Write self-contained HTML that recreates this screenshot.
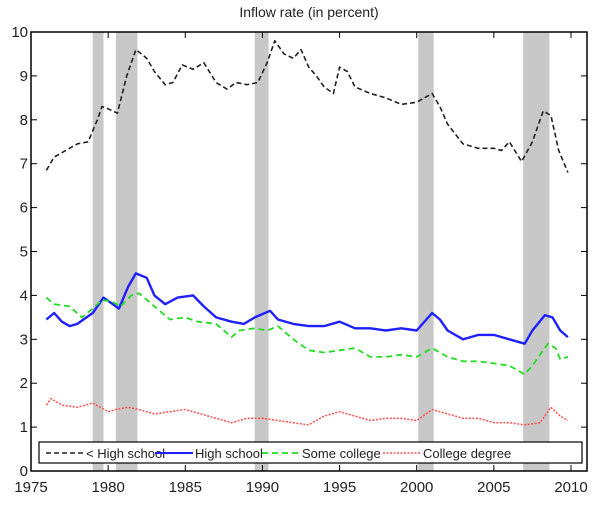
<!DOCTYPE html>
<html><head><meta charset="utf-8"><style>
html,body{margin:0;padding:0;background:#fff;}
svg{display:block;font-family:"Liberation Sans",sans-serif;}
</style></head><body>
<svg id="chart" width="600" height="509" xmlns="http://www.w3.org/2000/svg">
<text x="309" y="17" font-size="14" text-anchor="middle" fill="#222">Inflow rate (in percent)</text>
<g id="rec"></g><g id="axes"></g><g id="lines"></g><g id="legend"></g>
</svg>
<script>
const recessions=[[1979.0,1979.7],[1980.5,1981.9],[1989.5,1990.4],[2000.1,2001.1],[2006.9,2008.6]];
const xTicks=[1975,1980,1985,1990,1995,2000,2005,2010];
const yTicks=[0,1,2,3,4,5,6,7,8,9,10];
const lhsYears=[1976,1976.5,1977,1978,1978.7,1979.3,1979.6,1980,1980.6,1981.2,1981.8,1982.5,1983,1983.7,1984.2,1984.8,1985.5,1986.2,1987,1987.7,1988.3,1989,1989.7,1990.3,1990.8,1991.4,1992,1992.5,1993,1993.5,1994,1994.6,1995,1995.5,1996,1997,1998,1999,2000,2001,2001.5,2002,2003,2004,2005,2005.5,2006,2006.8,2007.5,2008.2,2008.7,2009.2,2009.8];
const lhsVals=[6.85,7.15,7.25,7.45,7.5,8.0,8.3,8.25,8.15,9.0,9.6,9.4,9.1,8.8,8.85,9.25,9.15,9.3,8.85,8.7,8.85,8.8,8.85,9.3,9.8,9.5,9.4,9.6,9.2,9.0,8.75,8.6,9.2,9.1,8.75,8.6,8.5,8.35,8.4,8.6,8.3,7.9,7.45,7.35,7.35,7.3,7.5,7.05,7.5,8.2,8.1,7.3,6.8];
const hsYears=[1976,1976.5,1977,1977.5,1978,1979,1979.7,1980.3,1980.7,1981.3,1981.8,1982.5,1983,1983.7,1984.5,1985.5,1986.2,1987,1988,1988.8,1989.5,1990.5,1991,1992,1993,1994,1995,1996,1997,1998,1999,2000,2001,2001.5,2002,2003,2004,2005,2006,2007,2007.5,2008.3,2008.8,2009.3,2009.8];
const hsVals=[3.45,3.6,3.4,3.3,3.35,3.6,3.95,3.8,3.7,4.2,4.5,4.4,4.0,3.8,3.95,4.0,3.75,3.5,3.4,3.35,3.5,3.65,3.45,3.35,3.3,3.3,3.4,3.25,3.25,3.2,3.25,3.2,3.6,3.45,3.2,3.0,3.1,3.1,3.0,2.9,3.2,3.55,3.5,3.2,3.05];
const scYears=[1976,1976.5,1977.5,1978.3,1979,1979.6,1980.3,1980.8,1981.5,1982,1983,1984,1985,1985.8,1987,1988,1988.5,1989.5,1990.3,1991,1992,1993,1994,1995,1996,1997,1998,1999,2000,2001,2002,2003,2004,2005,2006,2007,2007.5,2008.5,2009,2009.3,2009.8];
const scVals=[3.95,3.8,3.75,3.5,3.7,3.9,3.85,3.75,4.0,4.05,3.75,3.45,3.5,3.4,3.35,3.05,3.2,3.25,3.2,3.3,3.0,2.75,2.7,2.75,2.8,2.6,2.6,2.65,2.6,2.8,2.6,2.5,2.5,2.45,2.4,2.2,2.4,2.9,2.8,2.55,2.6];
const cdYears=[1976,1976.3,1977,1978,1979,1980,1980.5,1981.3,1982,1983,1984,1985,1986,1987,1988,1989,1990,1991,1992,1993,1994,1995,1996,1997,1998,1999,2000,2001,2002,2003,2004,2005,2006,2007,2008,2008.7,2009.3,2009.8];
const cdVals=[1.5,1.65,1.5,1.45,1.55,1.35,1.4,1.45,1.4,1.3,1.35,1.4,1.3,1.2,1.1,1.2,1.2,1.15,1.1,1.05,1.25,1.35,1.25,1.15,1.2,1.2,1.15,1.4,1.3,1.2,1.2,1.1,1.1,1.05,1.1,1.45,1.25,1.15];
const seriesNames=["< High school","High school","Some college","College degree"];

const L=31,R=587,T=32,B=471;
const x=v=>L+(v-1975)*(571-31)/35;
const y=v=>B-v*(B-T)/10;
const NS="http://www.w3.org/2000/svg";
function mk(tag,parent,attrs){const e=document.createElementNS(NS,tag);for(const k in attrs)e.setAttribute(k,attrs[k]);parent.appendChild(e);return e;}
const rec=document.getElementById('rec'),axes=document.getElementById('axes'),lines=document.getElementById('lines'),leg=document.getElementById('legend');
recessions.forEach(r=>{const e=mk('rect',rec,{x:x(r[0]),y:T,width:x(r[1])-x(r[0]),height:B-T,fill:'#c8c8c8'});

});
const frame=mk('rect',axes,{x:L,y:T,width:R-L,height:B-T,fill:'none',stroke:'#000','stroke-width':1.5});


xTicks.forEach(t=>{const xx=x(t);
mk('line',axes,{x1:xx,x2:xx,y1:B,y2:B-6,stroke:'#000'});mk('line',axes,{x1:xx,x2:xx,y1:T,y2:T+6,stroke:'#000'});
const tx=mk('text',axes,{x:xx,y:B+21,'font-size':15,'text-anchor':'middle',fill:'#222'});tx.textContent=t;

});
yTicks.forEach(t=>{const yy=y(t);
mk('line',axes,{x1:L,x2:L+6,y1:yy,y2:yy,stroke:'#000'});mk('line',axes,{x1:R,x2:R-6,y1:yy,y2:yy,stroke:'#000'});
const tx=mk('text',axes,{x:L-3,y:yy+5,'font-size':15,'text-anchor':'end',fill:'#222'});tx.textContent=t;

});
const styles=[{c:'#222',d:'5,3',w:1.6},{c:'#2020ff',d:'',w:2.4},{c:'#22dd22',d:'6,4',w:1.8},{c:'#ff5555',d:'2,1.5',w:1.6}];
[[lhsYears,lhsVals],[hsYears,hsVals],[scYears,scVals],[cdYears,cdVals]].forEach((s,i)=>{
const d=s[0].map((yr,j)=>(j?'L':'M')+x(yr).toFixed(1)+','+y(s[1][j]).toFixed(1)).join('');
const p=mk('path',lines,{d:d,fill:'none',stroke:styles[i].c,'stroke-width':styles[i].w,'stroke-dasharray':styles[i].d,'stroke-linejoin':'round'});

});
const lb=mk('rect',leg,{x:39,y:442,width:543,height:21,fill:'#fff',stroke:'#000','stroke-width':1.2});


const lx=[46,155,262,383];
seriesNames.forEach((n,i)=>{
mk('line',leg,{x1:lx[i],x2:lx[i]+38,y1:453,y2:453,stroke:styles[i].c,'stroke-width':styles[i].w>2?2:styles[i].w,'stroke-dasharray':styles[i].d});
const t=mk('text',leg,{x:lx[i]+40,y:458,'font-size':13,fill:'#222'});t.textContent=n;

});
</script>
</body></html>
